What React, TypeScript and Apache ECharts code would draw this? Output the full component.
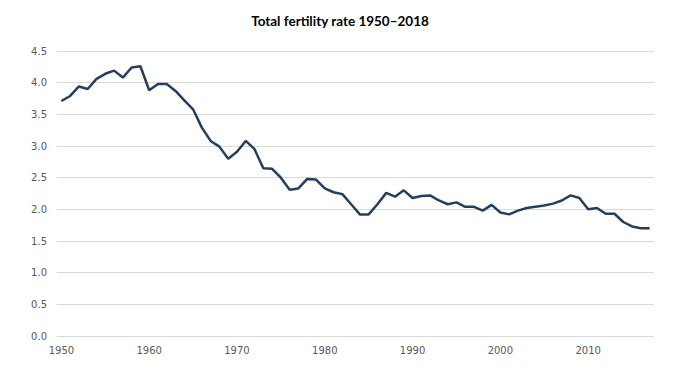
import React, { useEffect, useRef } from "react";
import * as echarts from "echarts";

const years: string[] = [];
for (let y = 1950; y <= 2017; y++) years.push(String(y));

const fertility = [
  3.71, 3.79, 3.94, 3.90, 4.06, 4.14, 4.19, 4.08, 4.24, 4.26,
  3.88, 3.98, 3.98, 3.87, 3.72, 3.58, 3.29, 3.08, 2.99, 2.80,
  2.91, 3.08, 2.95, 2.65, 2.64, 2.50, 2.31, 2.33, 2.48, 2.47,
  2.33, 2.27, 2.24, 2.08, 1.92, 1.92, 2.08, 2.26, 2.20, 2.30,
  2.18, 2.21, 2.22, 2.14, 2.08, 2.11, 2.04, 2.04, 1.98, 2.07,
  1.95, 1.92, 1.98, 2.02, 2.04, 2.06, 2.09, 2.14, 2.22, 2.18,
  2.00, 2.02, 1.93, 1.93, 1.80, 1.73, 1.70, 1.70,
];

const titleText = "Total fertility rate 1950–2018";

export default function App() {
  const ref = useRef<HTMLDivElement>(null);
  useEffect(() => {
    if (!ref.current) return;
    const chart = echarts.init(ref.current, undefined, { renderer: "svg" });
    chart.setOption({
      animation: false,
      backgroundColor: "#ffffff",
      title: {
        text: titleText,
        left: "center",
        top: 9,
        textStyle: {
          fontFamily: "Lato",
          fontWeight: "bold",
          fontSize: 13.5,
          color: "#000000",
        },
      },
      grid: { left: 57, right: 26, top: 51, bottom: 41, containLabel: false },
      xAxis: {
        type: "category",
        data: years,
        boundaryGap: true,
        axisLine: { show: false },
        axisTick: { show: false },
        axisLabel: {
          interval: 9,
          color: "#595959",
          fontFamily: "DejaVu Sans",
          fontSize: 10,
          margin: 9,
        },
        splitLine: { show: false },
      },
      yAxis: {
        type: "value",
        min: 0,
        max: 4.5,
        interval: 0.5,
        axisLine: { show: false },
        axisTick: { show: false },
        axisLabel: {
          formatter: (v: number) => v.toFixed(1),
          color: "#595959",
          fontFamily: "DejaVu Sans",
          fontSize: 10,
          margin: 10,
        },
        splitLine: { lineStyle: { color: "#D9D9D9", width: 1 } },
      },
      series: [
        {
          type: "line",
          data: fertility,
          symbol: "none",
          lineStyle: { color: "#243F60", width: 2.5 },
          itemStyle: { color: "#243F60" },
        },
      ],
    });
    return () => chart.dispose();
  }, []);
  return <div ref={ref} style={{ width: 680, height: 377, margin: -8 }} />;
}
